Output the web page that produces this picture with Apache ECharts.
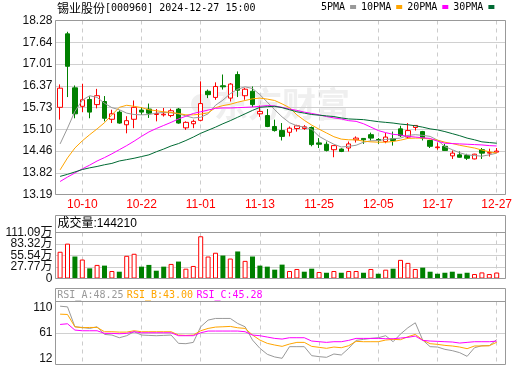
<!DOCTYPE html>
<html><head><meta charset="utf-8">
<script src="https://cdn.jsdelivr.net/npm/echarts@6/dist/echarts.min.js"></script>
<style>html,body{margin:0;padding:0;background:#fff}#c{width:520px;height:365px}</style>
</head><body><div id="c"></div>
<script>
const stockName = '锡业股份';
const stockCode = '000960';
const dates = ['2024-09-30','2024-10-08','2024-10-09','2024-10-10','2024-10-11','2024-10-14','2024-10-15','2024-10-16','2024-10-17','2024-10-18',
'2024-10-21','2024-10-22','2024-10-23','2024-10-24','2024-10-25','2024-10-28','2024-10-29','2024-10-30','2024-10-31','2024-11-01',
'2024-11-04','2024-11-05','2024-11-06','2024-11-07','2024-11-08','2024-11-11','2024-11-12','2024-11-13','2024-11-14','2024-11-15',
'2024-11-18','2024-11-19','2024-11-20','2024-11-21','2024-11-22','2024-11-25','2024-11-26','2024-11-27','2024-11-28','2024-11-29',
'2024-12-02','2024-12-03','2024-12-04','2024-12-05','2024-12-06','2024-12-09','2024-12-10','2024-12-11','2024-12-12','2024-12-13',
'2024-12-16','2024-12-17','2024-12-18','2024-12-19','2024-12-20','2024-12-23','2024-12-24','2024-12-25','2024-12-26','2024-12-27'];
const openP = [15.74,17.89,16.31,15.77,15.97,15.82,15.91,15.39,15.60,15.23,
15.39,15.66,15.69,15.53,15.52,15.50,15.69,15.14,15.26,15.36,
16.21,16.03,16.37,16.01,16.70,16.08,16.21,15.55,15.50,15.18,
15.06,15.01,15.12,15.12,15.15,14.70,14.66,14.50,14.52,14.55,
14.79,14.83,14.94,14.80,14.74,14.82,15.11,14.87,15.15,15.03,
14.77,14.56,14.60,14.32,14.35,14.33,14.23,14.50,14.40,14.43];
const closeP = [16.30,16.94,15.55,15.96,15.60,16.08,15.42,15.55,15.28,15.35,
15.74,15.60,15.57,15.56,15.54,15.64,15.28,15.30,15.33,15.85,
16.11,16.35,16.34,16.42,16.24,16.27,15.82,15.62,15.18,15.06,
14.89,15.13,15.20,15.17,14.65,14.66,14.48,14.62,14.45,14.67,
14.84,14.79,14.84,14.77,14.87,14.77,14.91,15.06,15.21,14.84,
14.60,14.58,14.48,14.40,14.28,14.25,14.37,14.40,14.42,14.46];
const lowP = [15.38,16.04,15.42,15.60,15.42,15.71,15.33,15.28,15.26,14.98,
15.13,15.52,15.43,15.33,15.47,15.45,15.26,15.08,15.13,15.33,
16.01,15.96,16.26,15.91,16.04,15.96,15.75,15.46,15.16,15.03,
14.77,14.89,15.03,15.08,14.60,14.55,14.45,14.28,14.43,14.45,
14.71,14.67,14.77,14.67,14.69,14.62,14.87,14.82,15.06,14.77,
14.55,14.50,14.47,14.23,14.27,14.20,14.22,14.23,14.30,14.42];
const highP = [16.41,17.95,16.38,16.43,16.06,16.28,16.07,15.67,15.65,15.48,
15.94,15.74,15.85,15.69,15.72,15.70,15.72,15.33,15.38,16.50,
16.26,16.47,16.70,16.45,16.79,16.31,16.35,15.79,15.69,15.38,
15.28,15.18,15.23,15.22,15.18,14.84,14.74,14.62,14.54,14.74,
14.89,14.84,15.00,14.84,14.99,15.03,15.20,15.28,15.21,15.05,
14.79,14.71,14.67,14.48,14.45,14.38,14.38,14.55,14.53,14.55];
const volume = [646000,842000,531000,458000,245000,328000,311000,181000,164000,548000,
597000,286000,328000,188000,286000,352000,409000,237000,303000,1020000,
531000,622000,555000,482000,653000,426000,531000,311000,286000,213000,
335000,181000,230000,164000,237000,157000,139000,181000,139000,181000,
181000,139000,230000,115000,213000,237000,450000,377000,230000,262000,
164000,115000,139000,164000,115000,139000,108000,147000,108000,144210];
const ma5 = [14.67,15.13,15.62,15.95,16.08,16.03,15.86,15.73,15.67,15.57,
15.53,15.52,15.53,15.57,15.59,15.58,15.55,15.49,15.43,15.45,
15.55,15.80,15.95,16.14,16.27,16.34,16.29,16.11,15.89,15.67,
15.46,15.29,15.20,15.16,15.10,14.89,14.77,14.66,14.58,14.60,
14.63,14.72,14.76,14.77,14.80,14.82,14.84,14.92,14.94,14.92,
14.89,14.78,14.59,14.50,14.41,14.35,14.33,14.31,14.35,14.40];
const ma10 = [13.91,14.26,14.55,14.76,14.94,15.11,15.29,15.52,15.74,15.80,
15.77,15.73,15.67,15.64,15.61,15.59,15.56,15.52,15.52,15.54,
15.58,15.73,15.79,15.83,15.89,15.94,15.99,16.01,15.98,15.94,
15.84,15.73,15.52,15.36,15.22,15.10,14.99,14.88,14.81,14.79,
14.79,14.75,14.73,14.72,14.72,14.74,14.78,14.83,14.84,14.84,
14.81,14.78,14.72,14.68,14.63,14.59,14.55,14.49,14.44,14.40];
const ma20 = [13.57,13.70,13.82,13.94,14.05,14.17,14.27,14.38,14.50,14.62,
14.75,14.89,15.02,15.12,15.21,15.30,15.40,15.48,15.56,15.61,
15.66,15.71,15.72,15.72,15.73,15.74,15.75,15.77,15.79,15.78,
15.74,15.69,15.65,15.60,15.56,15.52,15.47,15.43,15.40,15.35,
15.33,15.26,15.16,15.06,15.00,14.95,14.93,14.89,14.87,14.85,
14.83,14.75,14.69,14.68,14.67,14.66,14.65,14.64,14.62,14.61];
const ma30 = [13.72,13.78,13.85,13.92,13.97,14.01,14.06,14.10,14.17,14.21,
14.25,14.30,14.35,14.44,14.52,14.61,14.68,14.77,14.87,14.98,
15.07,15.16,15.26,15.35,15.45,15.55,15.65,15.74,15.76,15.77,
15.73,15.67,15.61,15.57,15.53,15.51,15.49,15.47,15.43,15.40,
15.39,15.38,15.35,15.32,15.30,15.28,15.25,15.23,15.20,15.16,
15.11,15.08,15.03,14.97,14.91,14.84,14.79,14.73,14.71,14.69];
const rsiA = [112.8,111.5,73.0,71.7,69.8,73.0,58.2,57.0,51.8,55.7,
63.4,57.0,56.3,55.7,56.3,57.0,40.9,40.3,42.8,73.0,
85.9,89.1,89.1,89.1,79.4,73.0,47.3,31.3,19.7,14.6,
12.0,34.5,34.5,34.5,17.1,15.2,13.9,20.3,18.4,31.3,
46.7,48.6,50.5,51.8,55.7,44.1,58.9,71.1,80.7,47.3,
34.5,33.8,29.3,26.8,22.9,15.8,32.5,36.4,36.4,48.25];
const rsiB = [97.4,96.8,73.0,71.1,71.7,71.7,63.4,63.4,62.7,62.7,
65.3,63.4,63.4,63.4,63.4,63.4,57.0,56.3,57.0,65.3,
69.8,72.4,73.0,73.7,71.1,69.8,57.0,47.3,40.9,37.7,
35.1,39.6,42.8,42.8,35.1,33.2,31.3,33.8,32.5,36.4,
44.8,44.1,44.1,44.1,47.3,48.6,48.0,53.7,58.2,47.3,
40.3,39.0,37.0,35.8,33.8,30.6,35.8,35.8,36.4,43.00];
const rsiC = [77.5,78.8,66.6,65.3,65.3,65.3,60.2,60.2,59.5,60.2,
63.4,61.4,61.4,61.4,61.4,61.4,55.7,55.7,55.7,61.4,
64.7,64.7,64.7,64.7,64.7,63.4,57.0,55.7,53.1,50.5,
49.2,51.8,51.8,51.8,45.4,44.1,42.8,44.1,44.1,46.7,
50.5,50.5,50.5,50.5,49.9,49.9,51.2,52.5,55.0,46.7,
45.4,44.8,44.1,43.5,41.5,42.8,44.1,44.1,44.1,45.28];
const priceTickLabels = ['13.19','13.82','14.46','15.10','15.73','16.37','17.01','17.64','18.28'];
const volTickValues = [0,277700,555400,833200,1110900];
const volTickLabels = ['0','27.77万','55.54万','83.32万','111.09万'];
const rsiTickValues = [12,61,110];
const rsiGridValues = [61];
const xLabelDates = ['2024-10-10','2024-10-22','2024-11-01','2024-11-13','2024-11-25','2024-12-05','2024-12-17','2024-12-27'];

const priceTickValues = priceTickLabels.map(Number);
const n = dates.length;
const isLabelIdx = (i) => xLabelDates.indexOf(dates[i]) >= 0;
const volEven = volTickValues.filter((v,i)=>i%2===0);
const volOdd = volTickValues.filter((v,i)=>i%2===1);
const volFmt = (v)=>{const i=volTickValues.indexOf(v);return i>=0?volTickLabels[i]:'';};

const RED = '#ff0000', GREEN = '#008000';
const FONT = 'Liberation Sans, "Noto Sans CJK SC", sans-serif';
const MONO = 'DejaVu Sans Mono, monospace';

const L0 = 55.5, W0 = 450, L1 = 56.4, W1 = 444;
const panels = [{top:20.5,height:174},{top:232.5,height:46},{top:301.5,height:63}];
const grid = [];
panels.forEach(p => {
  grid.push({left:L0, top:p.top, width:W0, height:p.height, containLabel:false});
  grid.push({left:L1, top:p.top, width:W1, height:p.height, containLabel:false});
});

const dashed = {show:true, interval:(i)=>isLabelIdx(i), alignWithLabel:true, lineStyle:{color:'#cccccc', type:[4,4], width:1}};
const xAxis = [];
for (let k=0;k<3;k++){
  xAxis.push({gridIndex:2*k, type:'value', min:0, max:1, show:false});
  xAxis.push({gridIndex:2*k+1, type:'category', data:dates, boundaryGap:true,
    axisLine:{show:false}, axisTick:{show:false},
    axisLabel:{show:k===0, interval:(i)=>isLabelIdx(i), formatter:(v)=>v.slice(5), color:RED, fontSize:12, fontFamily:FONT, margin:4},
    splitLine:dashed});
}
const solid = {show:true, lineStyle:{color:'#d0d0d0', width:1}};
const labelStyle = {color:'#111', fontSize:12, fontFamily:FONT, margin:3, showMinLabel:true, showMaxLabel:true};
const yAxis = [
  {gridIndex:0, type:'value', min:13.19, max:18.28, axisLine:{show:false}, axisTick:{show:false, customValues:priceTickValues},
   axisLabel:Object.assign({customValues:priceTickValues, formatter:(v)=>{const i=priceTickValues.indexOf(v);return i>=0?priceTickLabels[i]:'';}}, labelStyle), splitLine:solid},
  {gridIndex:1, type:'value', min:13.19, max:18.28, show:false},
  {gridIndex:2, type:'value', min:0, max:1110900, position:'left', offset:0, axisLine:{show:false}, axisTick:{show:false, customValues:volTickValues},
   axisLabel:Object.assign({}, labelStyle, {customValues:volEven, formatter:volFmt}), splitLine:solid},
  {gridIndex:3, type:'value', min:0, max:1110900, show:false},
  {gridIndex:4, type:'value', min:0, max:121.9, axisLine:{show:false}, axisTick:{show:false, customValues:rsiGridValues},
   axisLabel:Object.assign({customValues:rsiTickValues, formatter:(v)=>String(v)}, labelStyle), splitLine:solid},
  {gridIndex:5, type:'value', min:0, max:121.9, show:false},
  {gridIndex:2, type:'value', min:0, max:1110900, position:'left', offset:0, axisLine:{show:false}, axisTick:{show:false, customValues:volOdd},
   axisLabel:Object.assign({}, labelStyle, {customValues:volOdd, formatter:volFmt}), splitLine:{show:false}}
];

const candleData = dates.map((d,i)=>[openP[i], closeP[i], lowP[i], highP[i]]);
const volData = volume.map((v,i)=>{
  const up = i===0 ? closeP[i] >= openP[i] : closeP[i] >= closeP[i-1];
  return {value:v, itemStyle: up ? {color:'#ffffff', borderColor:RED, borderWidth:1} : {color:GREEN, borderColor:GREEN, borderWidth:0}};
});
const line = (name, data, color, xi, yi) => ({type:'line', name, data, xAxisIndex:xi, yAxisIndex:yi, symbol:'none', showSymbol:false,
  lineStyle:{color, width:1}, itemStyle:{color}, z:4, silent:true});

const series = [
  {type:'candlestick', name:'K', xAxisIndex:1, yAxisIndex:1, data:candleData, barWidth:5, z:3,
   itemStyle:{color:'#ffffff', color0:GREEN, borderColor:RED, borderColor0:GREEN, borderWidth:1}},
  line('5PMA', ma5, '#999999', 1, 1),
  line('10PMA', ma10, '#ffa500', 1, 1),
  line('20PMA', ma20, '#ff00ff', 1, 1),
  line('30PMA', ma30, '#006a33', 1, 1),
  {type:'bar', name:'VOL', xAxisIndex:3, yAxisIndex:3, data:volData, barWidth:5},
  line('RSI_A', rsiA, '#999999', 5, 5),
  line('RSI_B', rsiB, '#ffa500', 5, 5),
  line('RSI_C', rsiC, '#ff00ff', 5, 5)
];

const last = n-1;
const frameStyle = {fill:'none', stroke:'#999999', lineWidth:1};
const graphic = [
  {type:'circle', shape:{cx:201, cy:104, r:10}, style:{fill:'#efefef'}, z:0, silent:true},
  {type:'text', x:214, y:104, style:{text:'东方财富', font:'bold 34px "Noto Sans CJK SC"', fill:'#efefef', verticalAlign:'middle'}, z:0, silent:true},
  {type:'rect', shape:{x:55.5, y:20.5, width:450, height:174}, style:frameStyle, z:100, silent:true},
  {type:'rect', shape:{x:55.5, y:215.5, width:450, height:63}, style:frameStyle, z:100, silent:true},
  {type:'line', shape:{x1:55.5, y1:232.5, x2:505.5, y2:232.5}, style:{stroke:'#999999', lineWidth:1}, z:100, silent:true},
  {type:'rect', shape:{x:55.5, y:288.5, width:450, height:76}, style:frameStyle, z:100, silent:true},
  {type:'line', shape:{x1:55.5, y1:301.5, x2:505.5, y2:301.5}, style:{stroke:'#999999', lineWidth:1}, z:100, silent:true},
  {type:'text', x:57, y:8, z:100, silent:true, style:{
    text:'{c|'+stockName+'}{a|['+stockCode+'] '+dates[last]+' 15:00}', verticalAlign:'middle',
    rich:{c:{font:'12px "Noto Sans CJK SC"', fill:'#000'}, a:{font:'10px '+MONO, fill:'#000'}}}},
  {type:'text', x:57.5, y:224, z:100, silent:true, style:{text:'成交量:'+volume[last], font:'12px '+FONT, fill:'#000', verticalAlign:'middle'}},
  {type:'text', x:57.3, y:295, z:100, silent:true, style:{
    text:'{a|RSI_A:'+rsiA[last].toFixed(2)+'} {b|RSI_B:'+rsiB[last].toFixed(2)+'} {c|RSI_C:'+rsiC[last].toFixed(2)+'}', verticalAlign:'middle',
    rich:{a:{font:'10px '+MONO, fill:'#999999'}, b:{font:'10px '+MONO, fill:'#ffa500'}, c:{font:'10px '+MONO, fill:'#ff00ff'}}}}
];

const chart = echarts.init(document.getElementById('c'), null, {renderer:'canvas'});
chart.setOption({
  animation:false,
  backgroundColor:'#ffffff',
  grid, xAxis, yAxis, series, graphic,
  legend:{data:['5PMA','10PMA','20PMA','30PMA'], left:321, top:2, width:195, orient:'horizontal', padding:0, align:'right', icon:'rect', itemWidth:6, itemHeight:4, itemGap:5,
    selectedMode:false, textStyle:{fontFamily:MONO, fontSize:10, color:'#000'}}
});
</script></body></html>
